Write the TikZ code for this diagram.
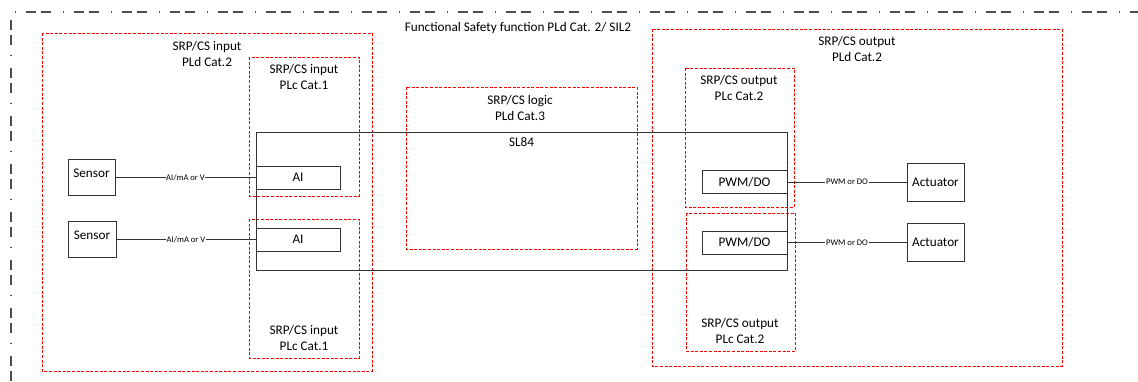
\documentclass[tikz,border=0pt]{standalone}
\usepackage{fontspec}
\setmainfont{Carlito}
\usetikzlibrary{positioning}

\tikzset{
    frame/.style={draw=black!70, line width=1.1pt,
        dash pattern=on 10pt off 5pt on 10pt off 12pt on 1pt off 10pt},
    zone/.style={draw=red, line width=0.9pt, dash pattern=on 3pt off 1.6pt},
    unit/.style={draw=black!80, line width=0.9pt, inner sep=0pt,
        font=\fontsize{13.2}{16}\selectfont},
    wire/.style={draw=black!80, line width=0.9pt},
    tag/.style={fill=white, inner sep=0.6pt, font=\fontsize{8.6}{10}\selectfont},
    caption/.style={align=center, inner sep=0pt, font=\fontsize{13.2}{16}\selectfont}
}

\begin{document}
\begin{tikzpicture}[x=1pt,y=-1pt]

    \useasboundingbox (0,0) rectangle (1138,381);

    % Safety function frame
    \draw[frame] (11,381) -- (11,12) -- (1138,12);
    \node[caption] (title) at (518,28) {Functional Safety function PLd Cat. 2/ SIL2};

    % SRP/CS zones
    \foreach \xa/\ya/\xb/\yb in {42/33/372/371, 249/57/359/196, 249/219/359/358,
                                 406/87/637/249,
                                 652/29/1062/366, 685/68/794/207, 686/213/795/351}
        \draw[zone] (\xa,\ya) rectangle (\xb,\yb);

    \node[caption] (inCap)    at (207,54)  {SRP/CS input\\PLd Cat.2};
    \node[caption] (inCapA)   at (304,77)  {SRP/CS input\\PLc Cat.1};
    \node[caption] (inCapB)   at (304,338) {SRP/CS input\\PLc Cat.1};
    \node[caption] (logicCap) at (520,108) {SRP/CS logic\\PLd Cat.3};
    \node[caption] (outCap)   at (857,49)  {SRP/CS output\\PLd Cat.2};
    \node[caption] (outCapA)  at (739,88)  {SRP/CS output\\PLc Cat.2};
    \node[caption] (outCapB)  at (740,331) {SRP/CS output\\PLc Cat.2};

    % SL84 controller
    \node[unit, minimum width=531pt, minimum height=138pt] (sl84) at (521.5,201) {};
    \node[caption, below=6pt of sl84.north] (sl84Cap) {SL84};

    % I/O modules
    \node[unit, minimum width=84pt, minimum height=23pt] (aiA)  at (298,177.5) {AI};
    \node[unit, minimum width=84pt, minimum height=23pt] (aiB)  at (298,239.5) {AI};
    \node[unit, minimum width=85pt, minimum height=23pt] (pwmA) at (744.5,182) {PWM/DO};
    \node[unit, minimum width=85pt, minimum height=23pt] (pwmB) at (744.5,242.5) {PWM/DO};

    % Field devices
    \node[unit, minimum width=47pt, minimum height=36pt, text depth=8pt] (sensorA) at (91.5,177.5) {Sensor};
    \node[unit, minimum width=48pt, minimum height=36pt, text depth=8pt] (sensorB) at (92,239.5) {Sensor};
    \node[unit, minimum width=57pt, minimum height=38pt] (actA) at (935.5,182) {Actuator};
    \node[unit, minimum width=57pt, minimum height=38pt] (actB) at (935.5,242.5) {Actuator};

    % Signals
    \draw[wire] (sensorA) -- node[tag] {AI/mA or V} (aiA);
    \draw[wire] (sensorB) -- node[tag] {AI/mA or V} (aiB);
    \draw[wire] (pwmA) -- node[tag] {PWM or DO} (actA);
    \draw[wire] (pwmB) -- node[tag] {PWM or DO} (actB);

\end{tikzpicture}
\end{document}
